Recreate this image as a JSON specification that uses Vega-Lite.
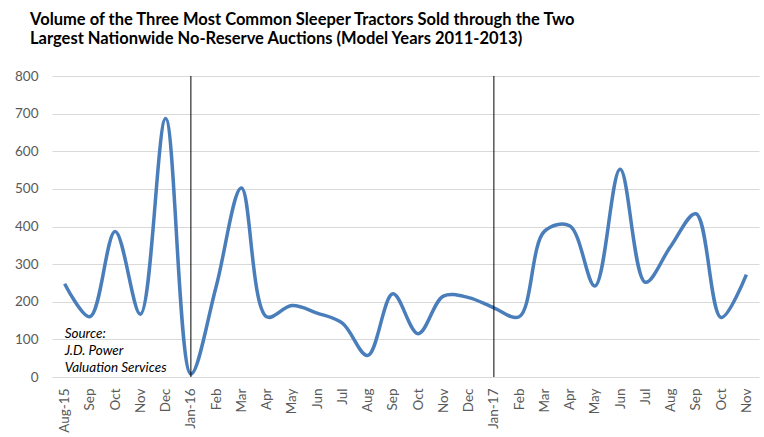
{
  "$schema": "https://vega.github.io/schema/vega-lite/v6.json",
  "autosize": "none",
  "width": 707,
  "height": 301,
  "padding": {"left": 52, "top": 76, "right": 5, "bottom": 60},
  "background": "white",
  "title": {
    "text": ["Volume of the Three Most Common Sleeper Tractors Sold through the Two", "Largest Nationwide No-Reserve Auctions (Model Years 2011-2013)"],
    "anchor": "start",
    "frame": "group",
    "dx": -22,
    "offset": 22,
    "font": "Lato",
    "fontSize": 16.5,
    "fontWeight": "bold",
    "color": "#000000",
    "lineHeight": 19
  },
  "config": {
    "view": {"stroke": null},
    "axis": {"labelFont": "Lato", "labelFontSize": 13.5, "labelColor": "#595959", "ticks": false, "domain": false, "title": null, "gridColor": "#d9d9d9"}
  },
  "datasets": {
    "sales": [
      {"idx": 0, "month": "Aug-15", "volume": 248},
      {"idx": 1, "month": "Sep", "volume": 160},
      {"idx": 2, "month": "Oct", "volume": 387},
      {"idx": 3, "month": "Nov", "volume": 167},
      {"idx": 4, "month": "Dec", "volume": 687},
      {"idx": 5, "month": "Jan-16", "volume": 8},
      {"idx": 6, "month": "Feb", "volume": 240},
      {"idx": 7, "month": "Mar", "volume": 502},
      {"idx": 8, "month": "Apr", "volume": 160},
      {"idx": 9, "month": "May", "volume": 190},
      {"idx": 10, "month": "Jun", "volume": 170},
      {"idx": 11, "month": "Jul", "volume": 143},
      {"idx": 12, "month": "Aug", "volume": 57},
      {"idx": 13, "month": "Sep", "volume": 221},
      {"idx": 14, "month": "Oct", "volume": 115},
      {"idx": 15, "month": "Nov", "volume": 215},
      {"idx": 16, "month": "Dec", "volume": 211},
      {"idx": 17, "month": "Jan-17", "volume": 184},
      {"idx": 18, "month": "Feb", "volume": 160},
      {"idx": 19, "month": "Mar", "volume": 387},
      {"idx": 20, "month": "Apr", "volume": 402},
      {"idx": 21, "month": "May", "volume": 242},
      {"idx": 22, "month": "Jun", "volume": 552},
      {"idx": 23, "month": "Jul", "volume": 252},
      {"idx": 24, "month": "Aug", "volume": 347},
      {"idx": 25, "month": "Sep", "volume": 434},
      {"idx": 26, "month": "Oct", "volume": 158},
      {"idx": 27, "month": "Nov", "volume": 272}
    ],
    "markers": [
      {"idx": 5},
      {"idx": 17}
    ],
    "source": [
      {"idx": 0, "y": 115, "label": "Source:"},
      {"idx": 0, "y": 70, "label": "J.D. Power"},
      {"idx": 0, "y": 25, "label": "Valuation Services"}
    ]
  },
  "layer": [
    {
      "data": {"name": "sales"},
      "mark": {"type": "line", "interpolate": "catmull-rom", "strokeWidth": 3.5, "color": "#4a7ebb"},
      "encoding": {
        "x": {
          "field": "idx", "type": "ordinal",
          "scale": {"type": "point", "domain": [0,1,2,3,4,5,6,7,8,9,10,11,12,13,14,15,16,17,18,19,20,21,22,23,24,25,26,27], "padding": 0.5},
          "axis": {
            "labelAngle": -90,
            "labelPadding": 11,
            "labelExpr": "['Aug-15','Sep','Oct','Nov','Dec','Jan-16','Feb','Mar','Apr','May','Jun','Jul','Aug','Sep','Oct','Nov','Dec','Jan-17','Feb','Mar','Apr','May','Jun','Jul','Aug','Sep','Oct','Nov'][datum.value]",
            "grid": false
          }
        },
        "y": {
          "field": "volume", "type": "quantitative",
          "scale": {"domain": [0, 800], "nice": false},
          "axis": {"values": [0,100,200,300,400,500,600,700,800], "labelOverlap": false, "labelPadding": 14, "grid": true}
        }
      }
    },
    {
      "data": {"name": "markers"},
      "mark": {"type": "rule", "color": "#000000", "strokeWidth": 1},
      "encoding": {
        "x": {"field": "idx", "type": "ordinal"}
      }
    },
    {
      "data": {"name": "source"},
      "mark": {"type": "text", "align": "left", "baseline": "middle", "font": "Lato", "fontSize": 13.5, "fontStyle": "italic", "color": "#000000"},
      "encoding": {
        "x": {"field": "idx", "type": "ordinal"},
        "y": {
          "field": "y", "type": "quantitative",
          "axis": {"values": [0,100,200,300,400,500,600,700,800], "labelOverlap": false, "labelPadding": 14, "grid": true}
        },
        "text": {"field": "label"}
      }
    }
  ]
}
